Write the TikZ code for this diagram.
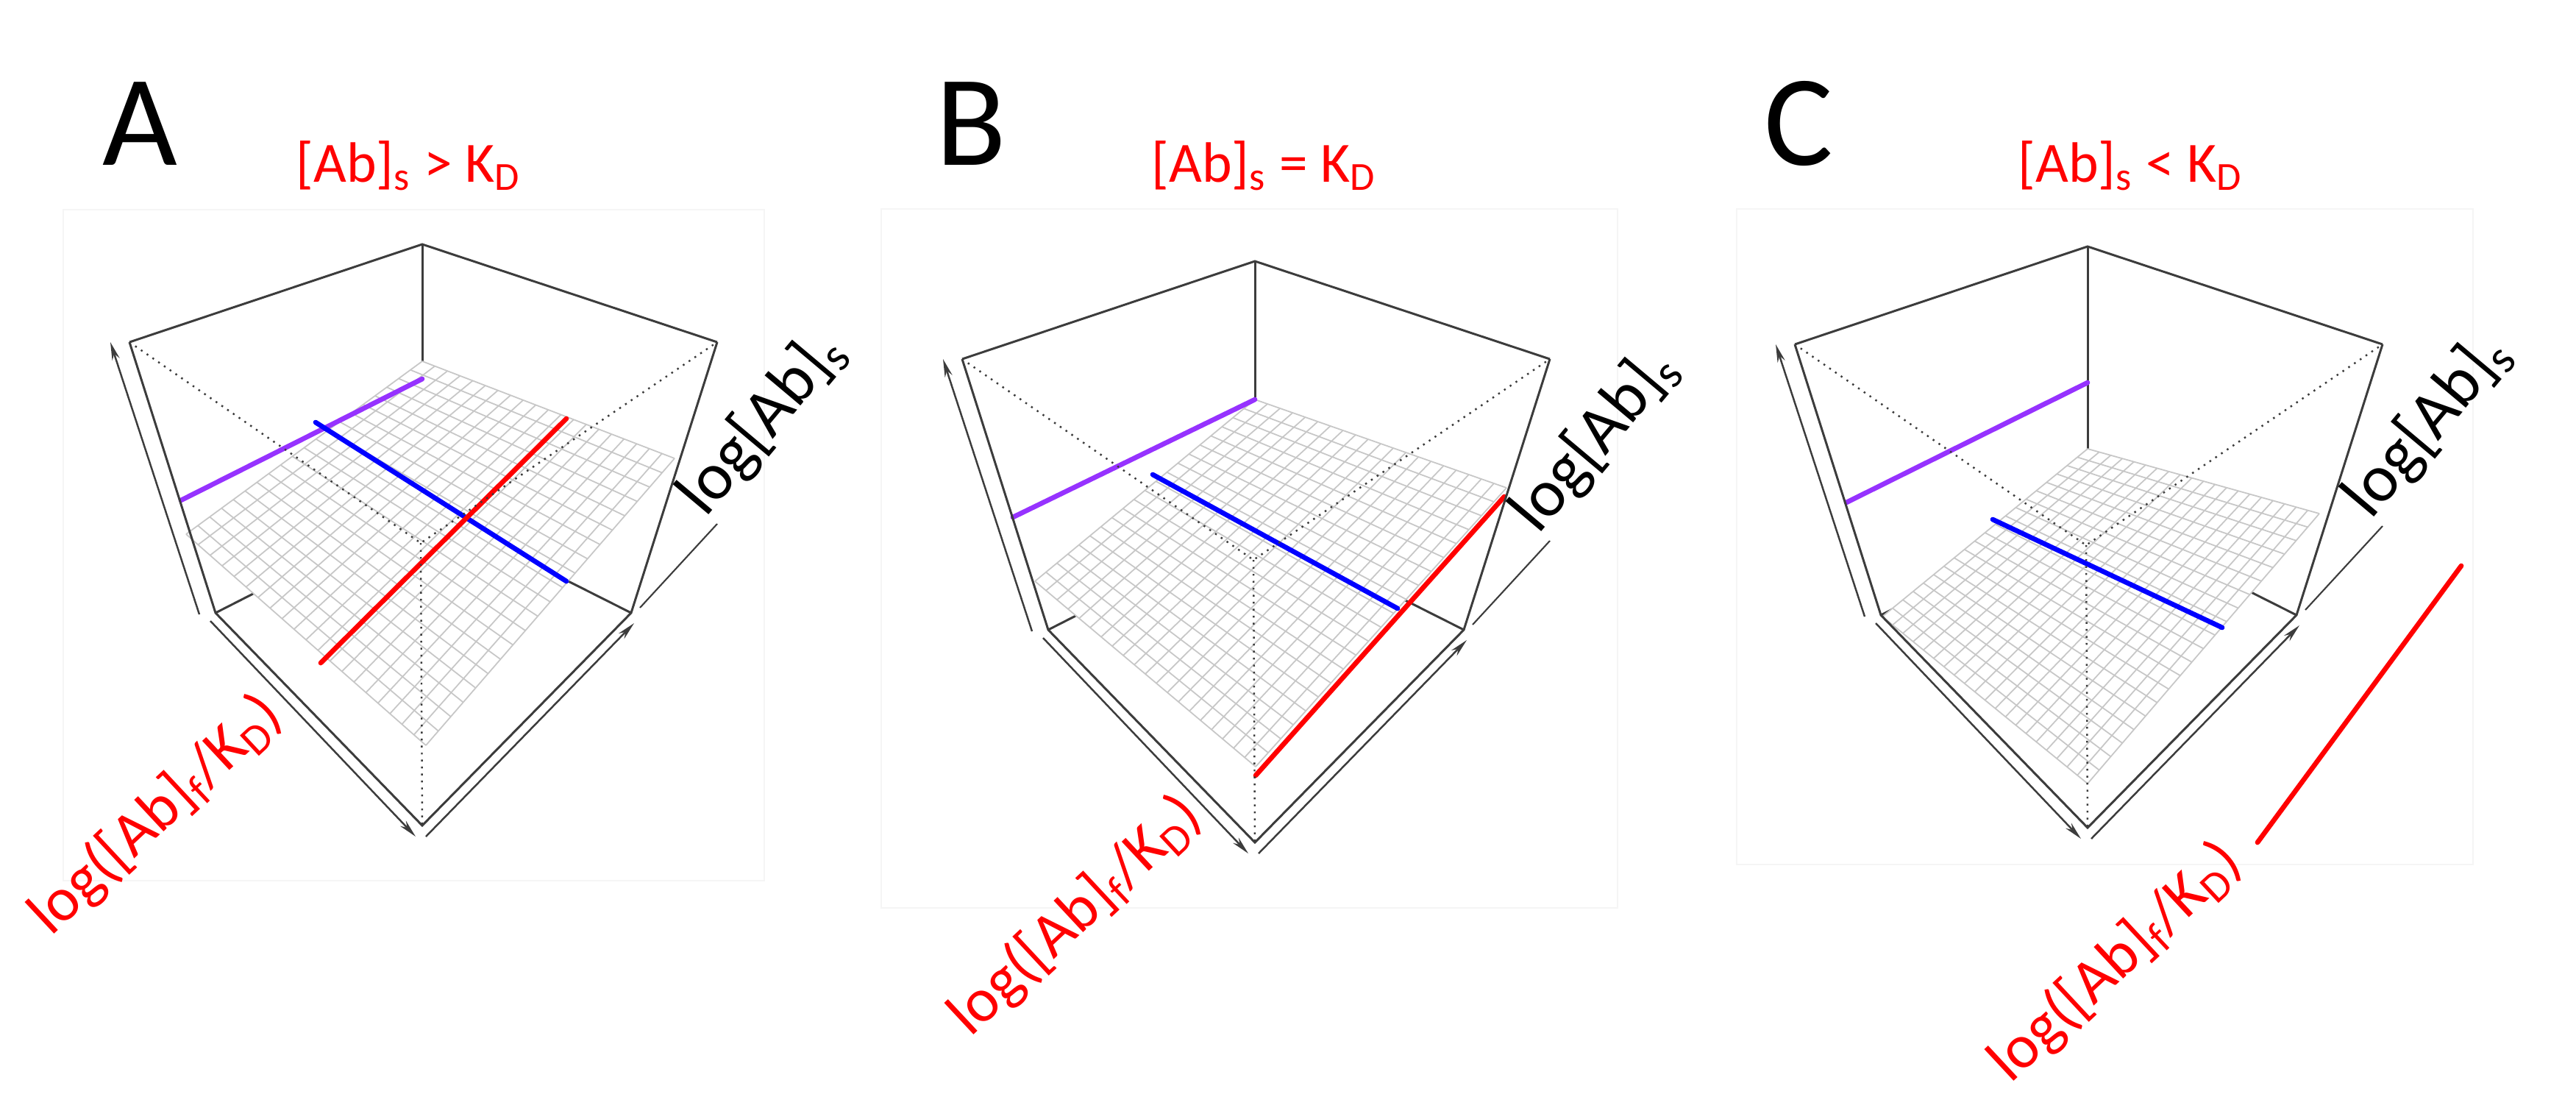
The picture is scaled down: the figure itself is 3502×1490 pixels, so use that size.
\documentclass[tikz,border=0pt]{standalone}
\usepackage{fontspec}
\setmainfont{Carlito}
\usetikzlibrary{calc,arrows.meta}
\definecolor{boxc}{RGB}{60,60,60}
\definecolor{purp}{RGB}{150,50,255}
\tikzset{
  boxline/.style={draw=boxc,line width=0.85pt},
  dotline/.style={draw=boxc,line width=0.7pt,dotted},
  axarrow/.style={draw=boxc,line width=0.7pt,-{Stealth[length=7pt,width=3pt]}},
  gridl/.style={draw=black!22,line width=0.5pt},
  curve/.style={line width=1.9pt,line cap=round},
  frame/.style={draw=black!4,line width=0.6pt},
  title/.style={text=red,font=\fontsize{22}{26}\selectfont},
  panelletter/.style={font=\fontsize{50}{56}\selectfont},
  axlabel/.style={font=\fontsize{26}{30}\selectfont,inner sep=0pt},
  redlabel/.style={font=\fontsize{24}{28}\selectfont,inner sep=0pt,text=red,rotate=43},
}
\newcommand{\cubeback}{%
  \draw[boxline] (176,465) -- (574,332) -- (975,465);
  \draw[boxline] (574,332) -- (574,690);
  \draw[boxline] (293,833) -- (574,690) -- (858,833);
}
\newcommand{\surf}[4]{% back, left, right, front
  \coordinate (SB) at #1; \coordinate (SL) at #2;
  \coordinate (SR) at #3; \coordinate (SF) at #4;
  \fill[white] (SB) -- (SL) -- (SF) -- (SR) -- cycle;
  \foreach \t in {0,0.05,...,1.001}{
    \draw[gridl] ($(SB)!\t!(SL)$) -- ($(SR)!\t!(SF)$);
    \draw[gridl] ($(SB)!\t!(SR)$) -- ($(SL)!\t!(SF)$);
  }
}
\newcommand{\cubefront}{%
  \draw[boxline] (176,465) -- (293,833) -- (574,1122) -- (858,833) -- (975,465);
  \draw[dotline] (176,465) -- (572,738) -- (975,465);
  \draw[dotline] (572,738) -- (574,1122);
  \draw[axarrow] (271,835) -- (150,465);
  \draw[axarrow] (286,844) -- (565,1137);
  \draw[axarrow] (579,1137) -- (862,847);
  \draw[draw=boxc,line width=0.6pt] (870,826) -- (975,712);
}
\begin{document}
\begin{tikzpicture}[x=0.01cm,y=-0.01cm]
\useasboundingbox (0,0) rectangle (3502,1490);
% faint frames
\draw[frame] (86,285) rectangle (1039,1197);
\draw[frame] (1198,284) rectangle (2199,1234);
\draw[frame] (2361,284) rectangle (3362,1175);
% ---------- Panel A ----------
\node[panelletter] (la) at (190,168) {A};
\node[title] (ta) at (555,225) {[Ab]\textsubscript{s} > K\textsubscript{D}};
\begin{scope}
  \cubeback
  \surf{(574,491)}{(253,726)}{(917,623)}{(579,1013)}
  \coordinate (pa1) at (246,680); \coordinate (pa2) at (574,515);
  \coordinate (ba1) at (429,574); \coordinate (ba2) at (770,790);
  \coordinate (ra1) at (436,901); \coordinate (ra2) at (770,569);
  \draw[curve,purp] (pa1) -- (pa2);
  \draw[curve,blue] (ba1) -- (ba2);
  \draw[curve,red] (ra1) -- (ra2);
  \cubefront
  \node[axlabel,rotate=50,anchor=south west] (xa) at (972,716) {log[Ab]\textsubscript{s}};
  \node[redlabel] (ya) at (212,1108) {log([Ab]\textsubscript{f}/K\textsubscript{D})};
\end{scope}
% ---------- Panel B ----------
\node[panelletter] (lb) at (1320,168) {B};
\node[title] (tb) at (1718,225) {[Ab]\textsubscript{s} = K\textsubscript{D}};
\begin{scope}[shift={(1132,23)}]
  \cubeback
  \surf{(574,520)}{(275,767)}{(916,640)}{(575,1019)}
  \coordinate (pb1) at (245,680); \coordinate (pb2) at (574,520);
  \coordinate (bb1) at (435,622); \coordinate (bb2) at (768,804);
  \coordinate (rb1) at (575,1031); \coordinate (rb2) at (913,652);
  \draw[curve,purp] (pb1) -- (pb2);
  \draw[curve,blue] (bb1) -- (bb2);
  \draw[curve,red] (rb1) -- (rb2);
  \cubefront
  \node[axlabel,rotate=50,anchor=south west] (xb) at (972,716) {log[Ab]\textsubscript{s}};
  \node[redlabel] (yb) at (330,1222) {log([Ab]\textsubscript{f}/K\textsubscript{D})};
\end{scope}
% ---------- Panel C ----------
\node[panelletter] (lc) at (2445,168) {C};
\node[title] (tc) at (2896,225) {[Ab]\textsubscript{s} < K\textsubscript{D}};
\begin{scope}[shift={(2264,3)}]
  \cubeback
  \surf{(574,607)}{(295,835)}{(889,695)}{(574,1062)}
  \coordinate (pc1) at (246,680); \coordinate (pc2) at (574,517);
  \coordinate (bc1) at (445,703); \coordinate (bc2) at (757,850);
  \coordinate (rc1) at (805,1142); \coordinate (rc2) at (1082,766);
  \draw[curve,purp] (pc1) -- (pc2);
  \draw[curve,blue] (bc1) -- (bc2);
  \draw[curve,red] (rc1) -- (rc2);
  \cubefront
  \node[axlabel,rotate=50,anchor=south west] (xc) at (972,716) {log[Ab]\textsubscript{s}};
  \node[redlabel] (yc) at (612,1305) {log([Ab]\textsubscript{f}/K\textsubscript{D})};
\end{scope}
\end{tikzpicture}
\end{document}
